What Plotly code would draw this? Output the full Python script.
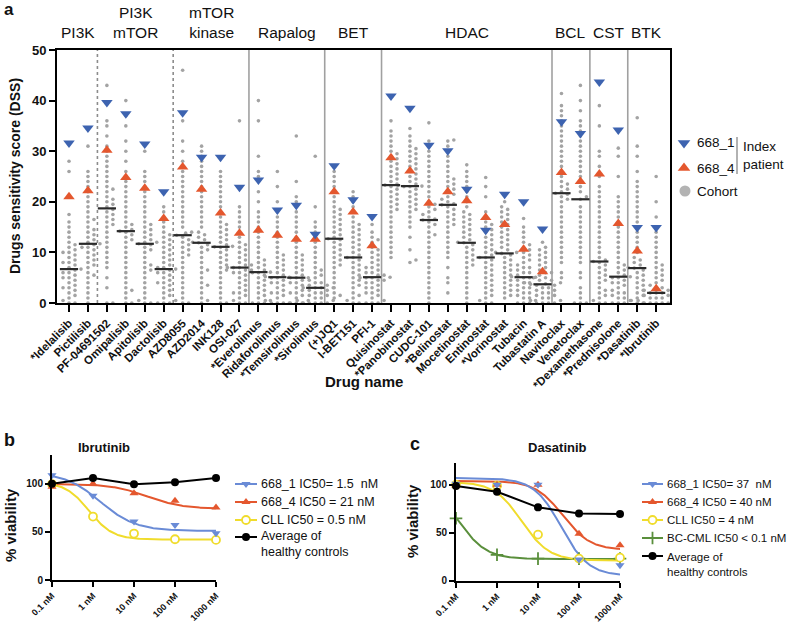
import numpy as np
import plotly.graph_objects as go

W, H = 788, 623
FONT = "Liberation Sans, Arial, sans-serif"

# ---------------- Panel a data ----------------
drugs = ["*Idelalisib", "Pictilisib", "PF-04691502", "Omipalisib", "Apitolisib", "Dactolisib",
         "AZD8055", "AZD2014", "INK128", "OSI-027", "*Everolimus", "Ridaforolimus", "*Temsirolimus",
         "*Sirolimus", "(+)JQ1", "I-BET151", "PFI-1", "Quisinostat", "*Panobinostat", "CUDC-101",
         "*Belinostat", "Mocetinostat", "Entinostat", "*Vorinostat", "Tubacin", "Tubastatin A",
         "Navitoclax", "Venetoclax", "*Dexamethasone", "*Prednisolone", "*Dasatinib", "*Ibrutinib"]

dss_668_1 = [31.6, 34.6, 39.6, 37.4, 31.4, 22.0, 37.6, 28.8, 28.8, 22.9, 24.3, 18.4, 19.3, 13.6,
             27.1, 20.4, 17.1, 40.9, 38.5, 31.2, 30.1, 22.5, 14.4, 21.5, 20.0, 14.6, 35.8, 33.5,
             43.7, 34.2, 14.9, 14.9]
dss_668_4 = [21.0, 22.2, 30.2, 24.8, 22.7, 16.7, 26.9, 22.5, 17.8, 13.8, 14.4, 13.4, 12.6, 12.6,
             22.0, 18.0, 11.3, 28.7, 26.1, 19.7, 22.0, 20.2, 16.9, 15.5, 10.6, 6.2, 25.8, 24.0,
             25.5, 15.7, 10.3, 2.8]
cohort_median = [6.7, 11.7, 18.7, 14.2, 11.7, 6.7, 13.4, 11.9, 11.1, 7.0, 6.1, 5.1, 5.0, 3.0,
                 12.7, 9.0, 5.1, 23.3, 23.1, 16.4, 19.4, 11.9, 9.0, 9.8, 5.1, 3.7, 21.7, 20.5,
                 8.2, 5.2, 6.9, 2.0]

cohort_idelalisib = [0,0,0.5,1,1.5,2,2.5,3,3,3.5,4,4.5,5,5,5.5,6,6,6.5,6.7,7,7.5,8,8,8.5,9,9.5,10,10,10.5,11,11.5,12,13,14,15,16,17.5,21,26,28]
cohort_pictilisib = [0,1,2,3,4,5,5.5,6,7,7.5,8,8.5,9,9.5,10,10.5,11,11,11.5,11.7,12,12.5,13,13.5,14,14.5,15,16,16.5,17,18,19,20,21,22,23,24,25,26,31]
cohort_pf04691502 = [0,0,3,5,7,8,9,10,11,12,13,14,15,15.5,16,16.5,17,17.5,18,18.5,19,19.5,20,20.5,21,22,22.5,23,24,25,26,27,28,29,30,31,33,35,36,43]
cohort_omipalisib = [0,0,1,2,2.5,3,4,5,6,7,8,9,10,11,12,12.5,13,13.5,14,14.2,14.5,15,15.5,16,17,18,19,20,21,22,23,24,25,26,28,30,32,35,37,40]
cohort_apitolisib = [0,0,0.5,1,2,3,4,5,6,6.5,7,7.5,8,9,10,10.5,11,11.5,11.7,12,12,12.5,13,13.5,14,14.5,15,15.5,16,17,18,19,20,21,22,23,24,25,26,30]
cohort_dactolisib = [0,0,0,0.5,1,1.5,2,2.5,3,3.5,4,4,4.5,5,5.5,6,6,6.5,6.7,7,7,7.5,8,8.5,9,9.5,10,10.5,11,11.5,12,12.5,13,13.5,14,15,16,17,18,19]
cohort_azd8055 = [0,0,1,2,3,4,5,6,7,8,9,9.5,10,10.5,11,11.5,12,12.5,13,13.4,13.8,14,15,16,17,18,19,20,21,22,23,24,25,26,27,28,30,32,36,46]
cohort_azd2014 = [0,0.5,1,2,3,3.5,4,5,6,6.5,7,8,9,10,10.5,11,11.5,11.9,12,12.5,13,13.5,14,15,16,17,18,19,20,21,22,23,24,25,26,27,28,29,30,31]
cohort_ink128 = [0,0,1,2,3,4,5,6,6.5,7,7.5,8,8.5,9,9.5,10,10.5,11,11.1,11.2,11.5,12,12.5,13,13.5,14,14.5,15,15.5,16,17,18,19,20,21,22,23,24,25,26]
cohort_osi027 = [0,0,0.5,1,1.5,2,2,2.5,3,3.5,4,4.5,5,5.5,6,6,6.5,6.5,7,7,7,7.5,7.5,8,8.5,9,9.5,10,10.5,11,11.5,12,13,14,15,16,17,18,19,36]
cohort_everolimus = [0,0,0,0.5,1,1.5,2,2.5,3,3.5,4,4.5,5,5.5,6,6,6.1,6.5,7,7.5,8,8.5,9,10,11,12,13,14,15,16,17,18,20,22,24,25,26,29,36,40]
cohort_ridaforolimus = [0,0,0,0,0.5,1,1.5,2,2,2.5,3,3.5,4,4,4.5,5,5,5.1,5.2,5.5,6,6.5,7,7.5,8,8.5,9,9.5,10,11,12,13,14,15,16,17,18,20,23,26]
cohort_temsirolimus = [0,0,0,0.5,1,1.5,2,2,2.5,3,3.5,4,4,4.5,5,5,5,5.5,6,6.5,7,7.5,8,8.5,9,9.5,10,11,12,13,14,15,16,17,18,19,20,21,24,33]
cohort_sirolimus = [0,0,0,0,0,0.5,0.5,1,1,1.5,1.5,2,2,2.5,2.5,3,3,3,3,3.5,3.5,4,4,4.5,5,5.5,6,6.5,7,8,9,10,11,12,13,14,15,16,19,29]
cohort_jq1 = [1,1.5,2,3,4,5,6,7,7.5,8,8.5,9,9.5,10,10.5,11,11.5,12,12.5,12.7,13,13.5,14,14.5,15,15.5,16,16.5,17,17.5,18,18.5,19,20,21,22,23,24,25,26]
cohort_ibet151 = [0,0,0.5,1,1.5,2,3,3.5,4,4.5,5,5.5,6,6.5,7,7.5,8,8.5,9,9,9.5,10,10.5,11,11.5,12,12.5,13,13.5,14,14.5,15,15.5,16,17,18,19,20,21,22]
cohort_pfi1 = [0,0,0,0.5,1,1.5,2,2,2.5,3,3,3.5,4,4,4.5,4.5,5,5,5,5.1,5.5,5.5,6,6,6.5,7,7,7.5,8,8.5,9,9.5,10,10.5,11,12,12.5,13,14,15.5]
cohort_quisinostat = [9,10,11,12,13,14,15,16,17,18,18.5,19,19.5,20,20.5,21,21.5,22,22.5,23,23.3,23.5,24,24.5,25,25.5,26,26.5,27,27.5,28,28.5,29,29.5,30,31,32,33,34,36]
cohort_panobinostat = [8,8.5,10.5,13,15,16,17,18,18.5,19,19.5,20,20.5,21,21.5,22,22.5,23,23,23.1,23.2,23.5,24,24.5,25,25.5,26,26.5,27,27.5,28,28.5,29,29.5,30,30.5,31,32,33,34.5]
cohort_cudc101 = [0,1,2,3,4,5,6,7,8,9,10,11,12,13,13.5,14,15,15.5,16,16.4,16.6,17,17.5,18,18.5,19,19.5,20,21,22,23,24,25,26,27,28,29,30,32,35.6]
cohort_belinostat = [2,4,5,7,9,10,11,12,13,14,15,15.5,16,16.5,17,17.5,18,18.5,19,19.4,19.6,20,20.5,21,21.5,22,22.5,23,23.5,24,24.5,25,26,27,28,29,30,31,32,32.2]
cohort_mocetinostat = [0,1,2,3,4,5,6,7,7.5,8,8.5,9,9.5,10,10.5,11,11.5,11.9,12,12.5,13,13.5,14,14.5,15,15.5,16,16.5,17,17.5,18,19,20,21,22,23,24,25,26,27.3]
cohort_entinostat = [0,0,0.5,1,1.5,2,2.5,3,3.5,4,4.5,5,5.5,6,6.5,7,7.5,8,8.5,9,9,9.5,10,10.5,11,11.5,12,12.5,13,13.5,14,14.5,15,15.5,16,17,18,21,23,24.8]
cohort_vorinostat = [1,1.5,2,2.5,3,3.5,4,4.5,5,5.5,6,6.5,7,7.5,8,8.5,9,9.5,9.8,10,10,10.5,11,11.5,12,12.5,13,13.5,14,14.5,15,15.5,16,16.5,17,17.5,18,18.5,19,20]
cohort_tubacin = [0,0,0,0.5,1,1,1.5,2,2,2.5,3,3,3.5,4,4,4.5,5,5,5.1,5.2,5.5,6,6,6.5,7,7,7.5,8,8.5,9,9.5,10,10.5,11,11.5,12,13,14,15,16.7]
cohort_tubastatin = [0,0,0,0,0.5,0.5,1,1,1.5,1.5,2,2,2.5,2.5,3,3,3.5,3.5,3.7,3.8,4,4,4.5,4.5,5,5,5.5,6,6,6.5,7,7.5,8,8.5,9,9.5,10,10.5,11,12]
cohort_navitoclax = [5,6,8,9,10,11,12,13,14,15,16,17,18,19,20,20.5,21,21.5,21.7,22,22.5,23,23.5,24,25,26,27,28,29,30,31,32,33,34,35,36,37,38,39,41.4]
cohort_venetoclax = [0,0,0,1,2,3,5,6,8,9,10,11,12,13,14,15,16,17,18,19,20.5,21,22,23,24,25,26,27,28,29,30,31,32,33,34,35,36,38,40,43]
cohort_dexamethasone = [0,0,0.5,1,1.5,2,2.5,3,4,4.5,5,5.5,6,6.5,7,7.5,8,8.2,8.5,9,10,11,12,13,14,15,16,17,18,19,20,21,22,23,25,27,29,30,35,39]
cohort_prednisolone = [0,0,0,0.5,1,1,1.5,2,2,2.5,3,3.5,4,4,4.5,5,5,5.2,5.5,6,6.5,7,7.5,8,9,10,11,12,13,14,15,16,17,18,19,20,21,25,29,30.6]
cohort_dasatinib = [0,0,0.5,1,1.5,2,2.5,3,3.5,4,4.5,5,5.5,6,6.5,6.9,7,7.5,8,8.5,9,10,11,12,13,14,15,16,17,18,19,20,21,22,23,24,26,29,31,36.6]
cohort_ibrutinib = [0,0,0,0,0,0.5,0.5,1,1,1,1.5,1.5,2,2,2,2,2.5,2.5,3,3,3.5,4,4.5,5,5.5,6,6.5,7,7.5,8,9,10,11,12,13,14,15,17,20,25]

cohort_values = [cohort_idelalisib, cohort_pictilisib, cohort_pf04691502, cohort_omipalisib,
                 cohort_apitolisib, cohort_dactolisib, cohort_azd8055, cohort_azd2014, cohort_ink128,
                 cohort_osi027, cohort_everolimus, cohort_ridaforolimus, cohort_temsirolimus,
                 cohort_sirolimus, cohort_jq1, cohort_ibet151, cohort_pfi1, cohort_quisinostat,
                 cohort_panobinostat, cohort_cudc101, cohort_belinostat, cohort_mocetinostat,
                 cohort_entinostat, cohort_vorinostat, cohort_tubacin, cohort_tubastatin,
                 cohort_navitoclax, cohort_venetoclax, cohort_dexamethasone, cohort_prednisolone,
                 cohort_dasatinib, cohort_ibrutinib]

group_names = ["PI3K", "PI3K<br>mTOR", "mTOR<br>kinase", "Rapalog", "BET", "HDAC", "BCL", "CST", "BTK"]
group_start = [0, 2, 6, 10, 14, 17, 26, 28, 30]
group_end = [1, 5, 9, 13, 16, 25, 27, 29, 31]

# ---------------- Panels b / c data ----------------
conc_labels = ["0.1 nM", "1 nM", "10 nM", "100 nM", "1000 nM"]
conc = [0.1, 1, 10, 100, 1000]

ibr_668_1 = [109, 87.5, 60.8, 57.3, 48.6]
ibr_668_4 = [97, 100, 90.3, 82.3, 75.3]
ibr_cll = [99.7, 66, 48.3, 42.4, 41.7]
ibr_healthy = [100, 106, 99.7, 101.7, 106]
# fitted 4PL parameters (top, bottom, midpoint nM, hill)
ibr_fit_668_1 = (112, 51, 1.5, 1.0)
ibr_fit_668_4 = (100, 74, 21, 1.0)
ibr_fit_cll = (102, 42, 0.8, 1.5)

das_668_1 = [101, 100, 100, 22, 16]
das_668_4 = [99, 100, 100, 49, 37]
das_cll = [100, 99, 48, 23, 24]
das_bccml = [65, 27, 23, 23, 23]
das_healthy = [98.6, 92.7, 76.4, 70, 69.5]
das_fit_668_1 = (107, 5, 37, 1.3)
das_fit_668_4 = (104, 32, 40, 1.3)
das_fit_cll = (103, 21, 4, 1.3)
das_fit_bccml = (100, 22.5, 0.12, 1.3)

BLUE_A, RED_A = "#3d63b0", "#e4572e"
BLUE, RED, YEL, GRN = "#6a8bd6", "#e4572e", "#f0dc2c", "#5a8f3c"

# ---------------- geometry (pixels) ----------------
A_L, A_R, A_T, A_B = 57, 670, 50, 303
A_X0, A_X1 = -0.634, 31.73
B_L, B_R, B_T, B_B = 52, 216, 455, 580
C_L, C_R, C_T, C_B = 456, 620, 463, 580.7


def px(x):
    return x / W


def py(y):
    return 1 - y / H


def swarm(vals, ppu_y, ppu_x, d=4.8):
    vals = np.asarray(vals, float)
    order = np.argsort(vals)
    out = np.zeros(len(vals))
    placed = []
    step = 3.0
    for idx in order:
        yp = vals[idx] * ppu_y
        cands = [0.0]
        for j in range(1, 12):
            cands += [j * step, -j * step]
        for c in cands:
            ok = True
            for (xq, yq) in placed:
                if (xq - c) ** 2 + (yq - yp) ** 2 < d ** 2:
                    ok = False
                    break
            if ok:
                break
        placed.append((c, yp))
        out[idx] = c / ppu_x
    return out


ppu_x = (A_R - A_L) / (A_X1 - A_X0)
ppu_y = (A_B - A_T) / 50.0

cx, cy = [], []
for i, vals in enumerate(cohort_values):
    offs = swarm(vals, ppu_y, ppu_x)
    cx += list(i + offs)
    cy += list(vals)

fig = go.Figure()

fig.add_trace(go.Scatter(x=cx, y=cy, mode="markers", xaxis="x", yaxis="y",
                         marker=dict(size=3.6, color="#a3a3a3"), cliponaxis=False,
                         name="Cohort", showlegend=False))
fig.add_trace(go.Scatter(x=list(range(len(drugs))), y=cohort_median, mode="markers", xaxis="x", yaxis="y",
                         marker=dict(symbol="line-ew", size=13, line=dict(width=2.2, color="#2a2a2a")),
                         showlegend=False, name="Median"))
fig.add_trace(go.Scatter(x=list(range(len(drugs))), y=dss_668_4, mode="markers", xaxis="x", yaxis="y",
                         marker=dict(symbol="triangle-up", size=10, color=RED_A), showlegend=False, name="668_4"))
fig.add_trace(go.Scatter(x=list(range(len(drugs))), y=dss_668_1, mode="markers", xaxis="x", yaxis="y",
                         marker=dict(symbol="triangle-down", size=10, color=BLUE_A), showlegend=False, name="668_1"))


def fourpl(p, xs):
    top, bot, mid, h = p
    xs = np.asarray(xs, float)
    return bot + (top - bot) / (1 + (xs / mid) ** h)


grid = np.logspace(-1, 3, 200)


def add_curve(p, color, xa, ya):
    fig.add_trace(go.Scatter(x=grid, y=fourpl(p, grid), mode="lines", xaxis=xa, yaxis=ya,
                             line=dict(color=color, width=2), showlegend=False, cliponaxis=False))


def add_pts(vals, sym, color, xa, ya, size=8, fill=None, lw=0):
    fig.add_trace(go.Scatter(x=conc, y=vals, mode="markers", xaxis=xa, yaxis=ya, cliponaxis=False,
                             marker=dict(symbol=sym, size=size, color=fill or color,
                                         line=dict(color=color, width=lw)), showlegend=False))


# panel b
add_curve(ibr_fit_cll, YEL, "x2", "y2")
add_curve(ibr_fit_668_4, RED, "x2", "y2")
add_curve(ibr_fit_668_1, BLUE, "x2", "y2")
add_pts(ibr_cll, "circle", YEL, "x2", "y2", 8, "white", 1.8)
add_pts(ibr_668_4, "triangle-up", RED, "x2", "y2", 8)
add_pts(ibr_668_1, "triangle-down", BLUE, "x2", "y2", 8)
fig.add_trace(go.Scatter(x=conc, y=ibr_healthy, mode="lines+markers", xaxis="x2", yaxis="y2", cliponaxis=False,
                         line=dict(color="black", width=2), marker=dict(size=8, color="black"), showlegend=False))

# panel c
add_curve(das_fit_bccml, GRN, "x3", "y3")
add_curve(das_fit_cll, YEL, "x3", "y3")
add_curve(das_fit_668_4, RED, "x3", "y3")
add_curve(das_fit_668_1, BLUE, "x3", "y3")
add_pts(das_bccml, "cross-thin", GRN, "x3", "y3", 9, None, 1.8)
add_pts(das_cll, "circle", YEL, "x3", "y3", 8, "white", 1.8)
add_pts(das_668_4, "triangle-up", RED, "x3", "y3", 8)
add_pts(das_668_1, "triangle-down", BLUE, "x3", "y3", 8)
fig.add_trace(go.Scatter(x=conc, y=das_healthy, mode="lines+markers", xaxis="x3", yaxis="y3", cliponaxis=False,
                         line=dict(color="black", width=2), marker=dict(size=8, color="black"), showlegend=False))

# ---------------- legend keys on an overlay (pixel) axis ----------------
def key_marker(x, y, sym, color, size, fill=None, lw=0):
    fig.add_trace(go.Scatter(x=[x], y=[y], mode="markers", xaxis="x4", yaxis="y4", cliponaxis=False,
                             marker=dict(symbol=sym, size=size, color=fill or color, line=dict(color=color, width=lw)),
                             showlegend=False))


def key_line(x0, x1, y, color):
    fig.add_trace(go.Scatter(x=[x0, x1], y=[y, y], mode="lines", xaxis="x4", yaxis="y4", cliponaxis=False,
                             line=dict(color=color, width=2), showlegend=False))


key_marker(684, 143, "triangle-down", BLUE_A, 11)
key_marker(684, 168, "triangle-up", RED_A, 11)
key_marker(685, 191, "circle", "#b3b3b3", 11)

b_rows = [(484, "triangle-down", BLUE, None, 0), (502, "triangle-up", RED, None, 0),
          (520, "circle", YEL, "white", 1.8), (537, "circle", "black", None, 0)]
for yy, sym, col, fill, lw in b_rows:
    key_line(235, 257, yy, col)
    key_marker(246, yy, sym, col, 8, fill, lw)

c_rows = [(484, "triangle-down", BLUE, None, 0), (502, "triangle-up", RED, None, 0),
          (520, "circle", YEL, "white", 1.8), (538, "cross-thin", GRN, None, 1.8),
          (556, "circle", "black", None, 0)]
for yy, sym, col, fill, lw in c_rows:
    key_line(642, 663, yy, col)
    key_marker(652.5, yy, sym, col, 9 if sym == "cross-thin" else 8, fill, lw)

# ---------------- annotations ----------------
ann = []


def text(x, y, t, size, bold=False, xanchor="center", yanchor="middle", angle=0, color="#111"):
    ann.append(dict(x=px(x), y=py(y), xref="paper", yref="paper", text=t, showarrow=False,
                    xanchor=xanchor, yanchor=yanchor, textangle=angle, align="left",
                    font=dict(family=FONT, size=size, color=color, weight="bold" if bold else "normal")))


text(9, 10, "a", 17, True)
text(15, 176, "Drugs sensitivity score (DSS)", 14, True, angle=-90)
text(364, 381, "Drug name", 15, True)

for g, s, e in zip(group_names, group_start, group_end):
    lo = max(s - 0.5, A_X0)
    hi = min(e + 0.5, A_X1)
    ann.append(dict(x=(lo + hi) / 2, y=py(43), xref="x", yref="paper", text=g, showarrow=False,
                    xanchor="center", yanchor="bottom",
                    font=dict(family=FONT, size=15.5, color="#111")))

text(695, 143, "668_1", 13.5, xanchor="left")
text(695, 168, "668_4", 13.5, xanchor="left")
text(695, 191, "Cohort", 13.5, xanchor="left")
text(741, 155, "Index<br>patient", 13.5, xanchor="left")

# panel b
text(9, 440, "b", 18, True)
text(104, 447, "Ibrutinib", 13, True)
text(10, 525, "% viability", 15, True, angle=-90)
text(259, 484, "668_1 IC50= 1.5\u00a0\u00a0nM", 12.5, xanchor="left")
text(259, 502, "668_4 IC50 = 21 nM", 12.5, xanchor="left")
text(259, 520, "CLL IC50 = 0.5 nM", 12.5, xanchor="left")
text(259, 544, "Average of<br>healthy controls", 12.5, xanchor="left")

# panel c
text(415, 444, "c", 18, True)
text(557, 447, "Dasatinib", 13, True)
text(412, 521, "% viability", 15, True, angle=-90)
text(665, 484, "668_1 IC50= 37\u00a0\u00a0nM", 11.5, xanchor="left")
text(665, 502, "668_4 IC50 = 40 nM", 11.5, xanchor="left")
text(665, 520, "CLL IC50 = 4 nM", 11.5, xanchor="left")
text(665, 538, "BC-CML IC50 < 0.1 nM", 11.5, xanchor="left")
text(665, 564, "Average of<br>healthy controls", 11.5, xanchor="left")

# ---------------- shapes ----------------
shapes = []
seps = [(1.5, "dot"), (5.5, "dot"), (9.5, "solid"), (13.5, "solid"), (16.5, "solid"),
        (25.5, "solid"), (27.5, "solid"), (29.5, "solid")]
for xv, dash in seps:
    shapes.append(dict(type="line", xref="x", yref="paper", x0=xv, x1=xv, y0=py(A_B), y1=py(A_T),
                       line=dict(color="#8c8c8c" if dash == "dot" else "#a0a0a0", width=1.6, dash=dash),
                       layer="below"))
shapes.append(dict(type="line", xref="paper", yref="paper", x0=px(737), x1=px(737), y0=py(137), y1=py(174),
                   line=dict(color="#999", width=1.5)))

xtick_bc = dict(family=FONT, size=9, color="#111", weight="bold")
ytick_bc = dict(family=FONT, size=10, color="#111", weight="bold")
common = dict(automargin=False, showgrid=False, zeroline=False)

fig.update_layout(
    width=W, height=H, margin=dict(l=0, r=0, t=0, b=0, pad=0, autoexpand=False),
    paper_bgcolor="white", plot_bgcolor="rgba(0,0,0,0)", showlegend=False,
    font=dict(family=FONT, color="#111"),
    annotations=ann, shapes=shapes,
    xaxis=dict(domain=[px(A_L), px(A_R)], range=[A_X0, A_X1], anchor="y",
               tickmode="array", tickvals=list(range(len(drugs))), ticktext=drugs, tickangle=-45,
               tickfont=dict(family=FONT, size=11.5, color="#111", weight="bold"),
               showline=True, linecolor="black", linewidth=2, mirror=True,
               ticks="outside", ticklen=7, tickwidth=2, tickcolor="black", **common),
    yaxis=dict(domain=[py(A_B), py(A_T)], range=[0, 50], anchor="x",
               tickvals=[0, 10, 20, 30, 40, 50], tickfont=dict(family=FONT, size=13, color="#111", weight="bold"),
               showline=True, linecolor="black", linewidth=2, mirror=True,
               ticks="outside", ticklen=6, tickwidth=2, tickcolor="black", **common),
    xaxis2=dict(domain=[px(B_L), px(B_R)], type="log", range=[-1, 3], anchor="y2",
                tickvals=conc, ticktext=conc_labels, tickangle=-45, tickfont=xtick_bc,
                showline=True, linecolor="black", linewidth=2, ticks="outside", ticklen=5, tickwidth=2,
                tickcolor="black", **common),
    yaxis2=dict(domain=[py(B_B), py(B_T)], range=[0, 130], anchor="x2",
                tickvals=[0, 50, 100], tickfont=ytick_bc,
                showline=True, linecolor="black", linewidth=2, ticks="outside", ticklen=5, tickwidth=2,
                tickcolor="black", **common),
    xaxis3=dict(domain=[px(C_L), px(C_R)], type="log", range=[-1, 3], anchor="y3",
                tickvals=conc, ticktext=conc_labels, tickangle=-45, tickfont=xtick_bc,
                showline=True, linecolor="black", linewidth=2, ticks="outside", ticklen=5, tickwidth=2,
                tickcolor="black", **common),
    yaxis3=dict(domain=[py(C_B), py(C_T)], range=[0, (C_B - C_T) / 0.96], anchor="x3",
                tickvals=[0, 50, 100], tickfont=ytick_bc,
                showline=True, linecolor="black", linewidth=2, ticks="outside", ticklen=5, tickwidth=2,
                tickcolor="black", **common),
    xaxis4=dict(domain=[0, 1], range=[0, W], anchor="y4", visible=False, fixedrange=True, automargin=False),
    yaxis4=dict(domain=[0, 1], range=[H, 0], anchor="x4", visible=False, fixedrange=True, automargin=False),
)

fig.write_html("out.html", config={"displayModeBar": False},
               post_script="document.body.style.margin='0px';document.body.style.overflow='hidden';")
